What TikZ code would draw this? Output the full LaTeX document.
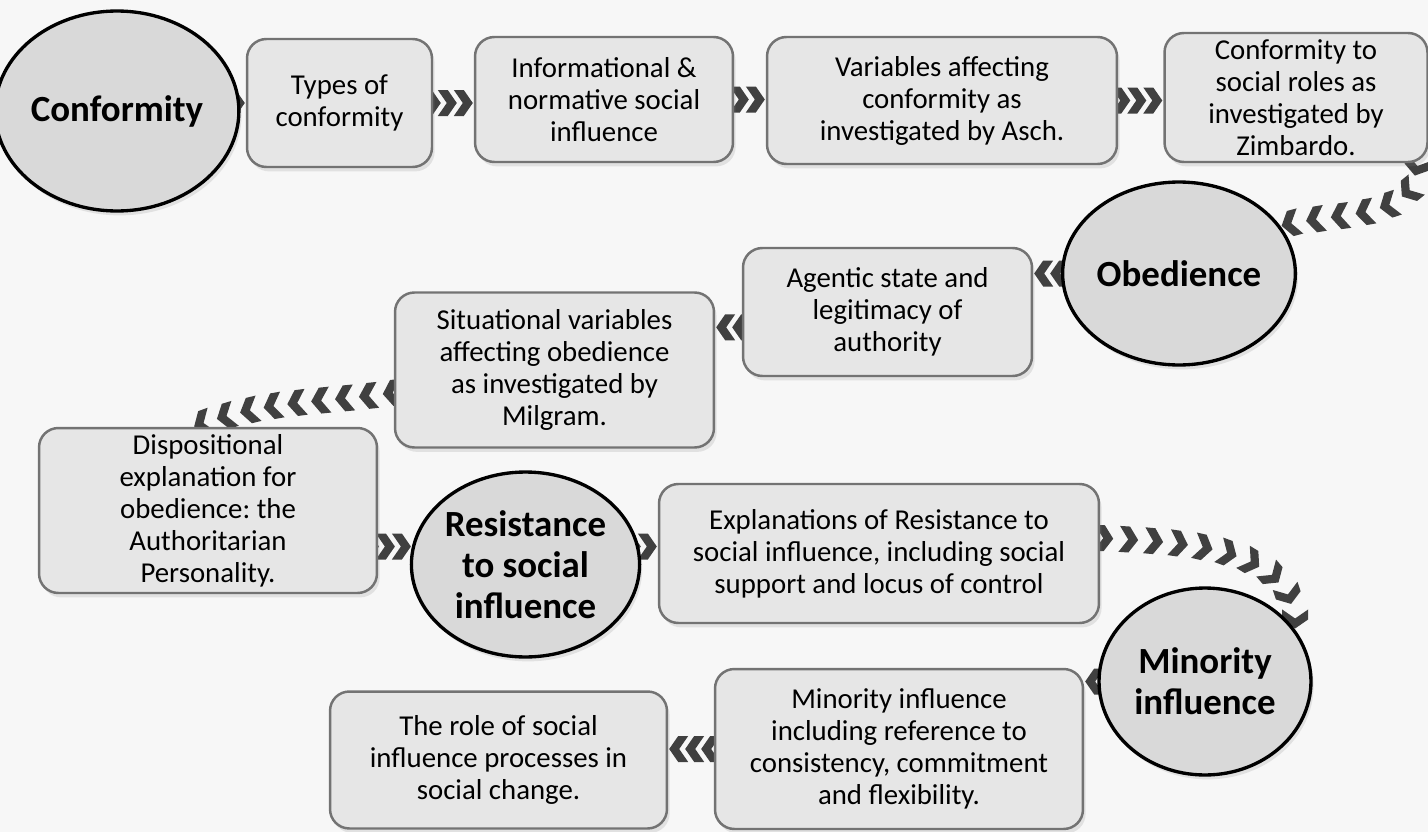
\documentclass[tikz,border=0pt]{standalone}
\usepackage{fontspec}
\setmainfont{Carlito}
\frenchspacing
\usetikzlibrary{shapes.geometric,decorations.markings,shadows,backgrounds}
\definecolor{chevgray}{HTML}{404040}
\definecolor{boxfill}{HTML}{E6E6E6}
\definecolor{boxedge}{HTML}{737373}
\definecolor{topicfill}{HTML}{D9D9D9}
\definecolor{pagegray}{HTML}{F7F7F7}
\tikzset{
  topic/.style={ellipse,draw=black,line width=1.9pt,fill=topicfill,inner sep=0pt,align=center,font=\fontsize{21}{23.5}\selectfont\bfseries,drop shadow={opacity=0.18,shadow xshift=1.5pt,shadow yshift=-2.5pt}},
  subtopic/.style={rectangle,rounded corners=11pt,draw=boxedge,line width=1.4pt,fill=boxfill,inner sep=0pt,align=center,font=\fontsize{16.4}{18.2}\selectfont,drop shadow={opacity=0.18,shadow xshift=1.5pt,shadow yshift=-2.5pt}},
  % chevrons are laid out from the target back to the source
  chevs/.style={draw=none,postaction={decorate,decoration={markings,reverse path,mark=between positions 0 and 1 step #1 with {\fill[chevgray] (1,0) -- (10,13) -- (20,13) -- (11,0) -- (20,-13) -- (10,-13) -- cycle;}}}},
  chevs/.default=0.32cm
}

\begin{document}
\begin{tikzpicture}[x=0.02cm,y=-0.02cm]
  \useasboundingbox (0,0) rectangle (1428,832);
  % first row
  \node[topic,minimum width=4.44cm,minimum height=4cm] (conf) at (117,111) {Conformity};
  \node[subtopic,minimum width=3.7cm,minimum height=2.56cm] (types) at (339.5,103) {Types of\\conformity};
  \node[subtopic,minimum width=5.16cm,minimum height=2.5cm] (info) at (604,99.5) {Informational \&\\normative social\\influence};
  \node[subtopic,minimum width=7cm,minimum height=2.54cm] (vars) at (942,100.5) {Variables affecting\\conformity as\\investigated by Asch.};
  \node[subtopic,minimum width=5.26cm,minimum height=2.58cm] (zimb) at (1296,97.5) {Conformity to\\social roles as\\investigated by\\Zimbardo.};
  % obedience
  \node[topic,minimum width=4.04cm,minimum height=3.66cm] (obed) at (1179,273.5) {Obedience};
  \node[subtopic,minimum width=5.78cm,minimum height=2.56cm] (agent) at (887.5,312) {Agentic state and\\legitimacy of\\authority};
  \node[subtopic,minimum width=6.38cm,minimum height=3.1cm] (situ) at (554.5,370) {Situational variables\\affecting obedience\\as investigated by\\Milgram.};
  \node[subtopic,minimum width=6.76cm,minimum height=3.3cm] (disp) at (208,510.5) {Dispositional\\explanation for\\obedience: the\\Authoritarian\\Personality.};
  % resistance
  \node[topic,minimum width=4.42cm,minimum height=3.7cm] (resist) at (525.5,564.5) {Resistance\\to social\\influence};
  \node[subtopic,minimum width=8.8cm,minimum height=2.78cm] (expl) at (879,553.5) {Explanations of Resistance to\\social influence, including social\\support and locus of control};
  % minority influence
  \node[topic,minimum width=4.24cm,minimum height=3.74cm] (minor) at (1205,681.5) {Minority\\influence};
  \node[subtopic,minimum width=7.36cm,minimum height=3.2cm] (minbox) at (899,749) {Minority influence\\including reference to\\consistency, commitment\\and flexibility.};
  \node[subtopic,minimum width=6.74cm,minimum height=2.74cm] (role) at (498.5,760) {The role of social\\influence processes in\\social change.};

  \begin{pgfonlayer}{background}
    \fill[pagegray] (0,0) rectangle (1428,832);
    \clip (0,0) rectangle (1428,832);
    \coordinate (offpage) at (-40,105);
    \draw[chevs] (offpage) -- (offpage -| conf.west);
    \draw[chevs] (conf.east |- types.west) -- (types.west);
    \draw[chevs] (types.east) -- (types.east -| info.west);
    \draw[chevs] (info.east) -- (info.east -| vars.west);
    \draw[chevs] (vars.east) -- (vars.east -| zimb.west);
    \draw[chevs=0.5cm] ([xshift=-0.25cm]zimb.south east) to[out=-90,in=15] (obed.25);
    \draw[chevs] (obed.west) -- (obed.west -| agent.east);
    \draw[chevs] (agent.186) -- (agent.186 -| situ.east);
    \draw[chevs=0.48cm] (situ.188) to[out=188,in=20] (disp.100);
    \draw[chevs] (disp.east |- resist.171) -- (resist.171);
    \draw[chevs] (resist.9) -- (resist.9 -| expl.west);
    \draw[chevs=0.5cm] (expl.4) to[out=-3,in=90] (minor.30);
    \draw[chevs] (minor.west) -- (minor.west -| minbox.east);
    \draw[chevs] (minbox.west) -- (minbox.west -| role.east);
  \end{pgfonlayer}
\end{tikzpicture}
\end{document}
